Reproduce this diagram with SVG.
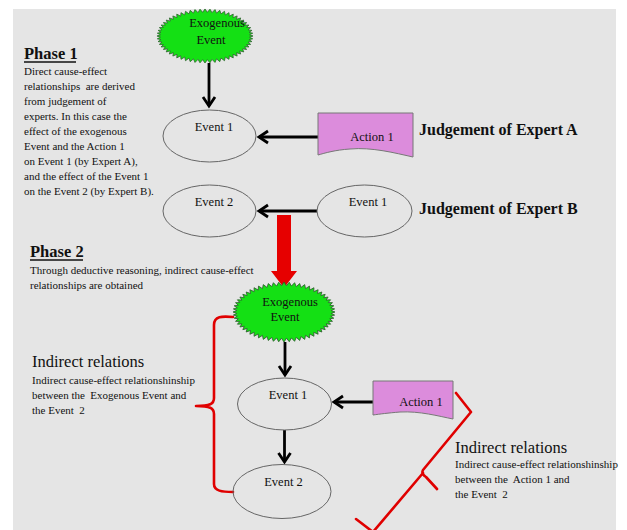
<svg xmlns="http://www.w3.org/2000/svg" width="627" height="530" viewBox="0 0 627 530">
<style>
text{font-family:"Liberation Serif","Times New Roman",serif;fill:#111;white-space:pre}
.lbl{font-size:12.5px}
.mid{text-anchor:middle}
.body{font-size:11px}
.h1{font-size:16.5px;font-weight:bold}
.jd{font-size:16px;font-weight:bold}
.ir{font-size:16.5px}
.ell{fill:none;stroke:#666;stroke-width:1}
.act{fill:#dc8cdc;stroke:#777;stroke-width:1}
.exo{fill:#14e014;stroke:#2d5e2d;stroke-width:0.8}
.arr{stroke:#000;stroke-width:2.8;fill:none;marker-end:url(#ah)}
.brace{stroke:#e00000;stroke-width:2.6;fill:none;stroke-linejoin:round;stroke-linecap:round}
.ul{stroke:#111;stroke-width:1.5}
</style>
<defs>
<marker id="ah" viewBox="-12 -8 16 16" refX="0" refY="0" markerWidth="16" markerHeight="16" markerUnits="userSpaceOnUse" orient="auto" overflow="visible">
<path d="M-9,-6 L0,0 L-9,6" fill="none" stroke="#000" stroke-width="2.8"/>
</marker>
<polygon id="zig" points="49,0 45.4,1.3 48.7,2.9 44.9,3.8 47.9,5.8 44,6.3 46.6,8.7 42.5,8.8 44.8,11.4 40.5,11.1 42.4,14 38.2,13.3 39.6,16.5 35.4,15.4 36.4,18.7 32.2,17.3 32.8,20.8 28.6,19 28.8,22.7 24.8,20.5 24.5,24.2 20.7,21.8 19.9,25.6 16.3,22.9 15.1,26.6 11.8,23.7 10.2,27.4 7.1,24.2 5.1,27.8 2.4,24.5 0,28 -2.4,24.5 -5.1,27.8 -7.1,24.2 -10.2,27.4 -11.8,23.7 -15.1,26.6 -16.3,22.9 -19.9,25.6 -20.7,21.8 -24.5,24.2 -24.8,20.5 -28.8,22.7 -28.6,19 -32.8,20.8 -32.2,17.3 -36.4,18.7 -35.4,15.4 -39.6,16.5 -38.2,13.3 -42.4,14 -40.5,11.1 -44.8,11.4 -42.5,8.8 -46.6,8.7 -44,6.3 -47.9,5.8 -44.9,3.8 -48.7,2.9 -45.4,1.3 -49,0 -45.4,-1.3 -48.7,-2.9 -44.9,-3.8 -47.9,-5.8 -44,-6.3 -46.6,-8.7 -42.5,-8.8 -44.8,-11.4 -40.5,-11.1 -42.4,-14 -38.2,-13.3 -39.6,-16.5 -35.4,-15.4 -36.4,-18.7 -32.2,-17.3 -32.8,-20.8 -28.6,-19 -28.8,-22.7 -24.8,-20.5 -24.5,-24.2 -20.7,-21.8 -19.9,-25.6 -16.3,-22.9 -15.1,-26.6 -11.8,-23.7 -10.2,-27.4 -7.1,-24.2 -5.1,-27.8 -2.4,-24.5 0,-28 2.4,-24.5 5.1,-27.8 7.1,-24.2 10.2,-27.4 11.8,-23.7 15.1,-26.6 16.3,-22.9 19.9,-25.6 20.7,-21.8 24.5,-24.2 24.8,-20.5 28.8,-22.7 28.6,-19 32.8,-20.8 32.2,-17.3 36.4,-18.7 35.4,-15.4 39.6,-16.5 38.2,-13.3 42.4,-14 40.5,-11.1 44.8,-11.4 42.5,-8.8 46.6,-8.7 44,-6.3 47.9,-5.8 44.9,-3.8 48.7,-2.9 45.4,-1.3"/>
</defs>
<rect x="0" y="0" width="627" height="530" fill="#fff"/>
<rect x="13" y="9" width="603" height="521" fill="#e5e5e5"/>

<g id="phase1-text">
<text class="h1" x="24" y="59">Phase 1</text>
<line class="ul" x1="24" y1="62" x2="76" y2="62"/>
<text class="body" x="24" y="75">Direct cause-effect</text>
<text class="body" x="24" y="90">relationships  are derived</text>
<text class="body" x="24" y="105">from judgement of</text>
<text class="body" x="24" y="120">experts. In this case the</text>
<text class="body" x="24" y="135">effect of the exogenous</text>
<text class="body" x="24" y="150">Event and the Action 1</text>
<text class="body" x="24" y="165">on Event 1 (by Expert A),</text>
<text class="body" x="24" y="180">and the effect of the Event 1</text>
<text class="body" x="24" y="195">on the Event 2 (by Expert B).</text>
</g>

<g id="phase2-text">
<text class="h1" x="30" y="257">Phase 2</text>
<line class="ul" x1="30" y1="260" x2="83" y2="260"/>
<text class="body" x="30" y="274">Through deductive reasoning, indirect cause-effect</text>
<text class="body" x="30" y="289">relationships are obtained</text>
</g>

<g id="judgement-a"><text class="jd" x="419" y="135">Judgement of Expert A</text></g>
<g id="judgement-b"><text class="jd" x="419" y="214">Judgement of Expert B</text></g>

<g id="indirect-left">
<text class="ir" x="32" y="367">Indirect relations</text>
<text class="body" x="32" y="384">Indirect cause-effect relationshinship</text>
<text class="body" x="32" y="399">between the  Exogenous Event and</text>
<text class="body" x="32" y="414">the Event  2</text>
</g>

<g id="indirect-right">
<text class="ir" x="455" y="453">Indirect relations</text>
<text class="body" x="455" y="468">Indirect cause-effect relationshinship</text>
<text class="body" x="455" y="483">between the  Action 1 and</text>
<text class="body" x="455" y="498">the Event  2</text>
</g>

<g id="connectors">
<line class="arr" x1="209" y1="63" x2="209" y2="106"/>
<line class="arr" x1="318" y1="137" x2="259" y2="137"/>
<line class="arr" x1="317" y1="211" x2="259" y2="211"/>
<polygon points="277,215 291,215 291,271 297,271 284,288 271,271 277,271" fill="#e60000"/>
<line class="arr" x1="285" y1="342" x2="285" y2="375"/>
<line class="arr" x1="284.5" y1="430" x2="284.5" y2="462"/>
<line class="arr" x1="373" y1="402" x2="334" y2="402"/>
<path class="brace" d="M233,317 C222,316 214,316 214,325 L214,398 C214,404 210,406 196,406 C210,406 214,408 214,414 L214,484 C214,491 222,492 233,492"/>
<path class="brace" d="M456,393 L471,412 L423,470 Q421,474 426,477 L437,489 M423,473 L373,532 L356,519"/>
</g>

<g id="exo1">
<use href="#zig" class="exo" transform="translate(205,36) scale(0.98,0.965)"/>
<text class="lbl mid" x="217" y="27">Exogenous</text>
<text class="lbl mid" x="211" y="44">Event</text>
</g>
<g id="event1-a">
<ellipse class="ell" cx="209.5" cy="136" rx="46.5" ry="26"/>
<text class="lbl mid" x="214" y="131">Event 1</text>
</g>
<g id="action1-a">
<path class="act" d="M318,113 L413,113 L413,157 C395,153 372,147 350,149 C335,150 325,153 318,155 Z"/>
<text class="lbl mid" x="372" y="141">Action 1</text>
</g>
<g id="event2-b">
<ellipse class="ell" cx="209.5" cy="211" rx="46.5" ry="26"/>
<text class="lbl mid" x="214" y="206">Event 2</text>
</g>
<g id="event1-b">
<ellipse class="ell" cx="364.5" cy="211" rx="47.5" ry="26"/>
<text class="lbl mid" x="368" y="206">Event 1</text>
</g>

<g id="exo2">
<use href="#zig" class="exo" transform="translate(284,312) scale(1.04,1.07)"/>
<text class="lbl mid" x="290" y="306">Exogenous</text>
<text class="lbl mid" x="285" y="321">Event</text>
</g>
<g id="event1-p2">
<ellipse class="ell" cx="284.5" cy="404" rx="47" ry="26"/>
<text class="lbl mid" x="288" y="399">Event 1</text>
</g>
<g id="action1-p2">
<path class="act" d="M373,381 L453,381 L453,419 C438,416 420,411 400,412 C388,413 380,414 373,415 Z"/>
<text class="lbl mid" x="421" y="406">Action 1</text>
</g>
<g id="event2-p2">
<ellipse class="ell" cx="282" cy="491.5" rx="49" ry="27"/>
<text class="lbl mid" x="283.5" y="486">Event 2</text>
</g>
</svg>
